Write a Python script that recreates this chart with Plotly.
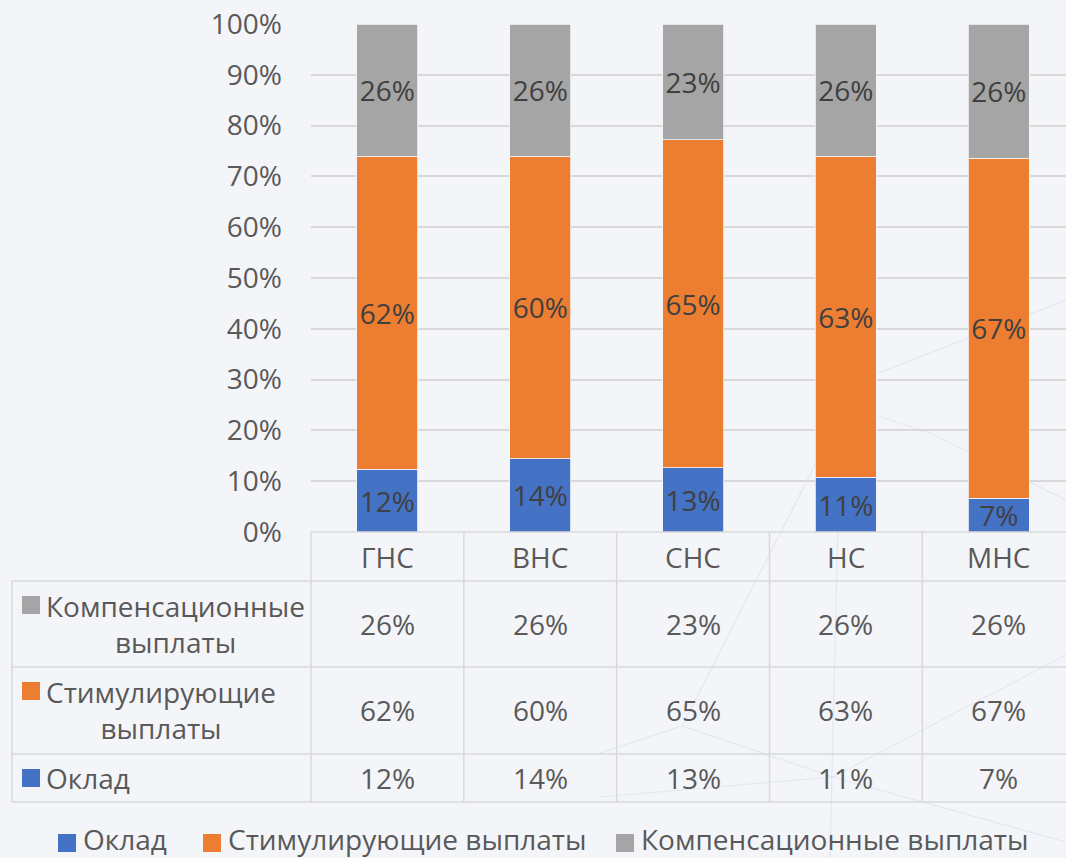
import plotly.graph_objects as go

# data
categories = ['ГНС', 'ВНС', 'СНС', 'НС', 'МНС']
series_names = ['Оклад', 'Стимулирующие выплаты', 'Компенсационные выплаты']
oklad = [12.4, 14.4, 12.6, 10.8, 6.6]
stimul = [61.6, 59.6, 64.6, 63.2, 67.0]
kompens = [26.0, 26.0, 22.8, 26.0, 26.4]
colors = ['#4472C4', '#ED7D31', '#A5A5A5']
y_ticks = [0, 10, 20, 30, 40, 50, 60, 70, 80, 90, 100]

FONT = 'Open Sans'
FS = 28
TXT = '#595959'
LBL = '#404040'
BG = '#F4F5F9'
GRID = '#D9D9D9'

W, H = 1066, 858
L, T, B = 311, 24, 532  # plot area in pixels


def px(p):
    return (p - L) / (W - L)


def py(p):
    return (B - p) / (B - T)


def pct(v):
    return f'{v:.0f}%'


fig = go.Figure()
for name, vals, col in zip(series_names, [oklad, stimul, kompens], colors):
    fig.add_trace(go.Bar(
        x=categories, y=vals, name=name,
        marker=dict(color=col, line=dict(color=BG, width=0.8)),
        text=[pct(v) for v in vals], textposition='inside', textangle=0,
        insidetextanchor='middle', constraintext='none',
        textfont=dict(family=FONT, size=FS, color=LBL),
        width=0.4, hoverinfo='skip',
    ))

shapes = []
annotations = []

# faint background network lines (decoration)
deco = [
    ((600, 753), (682, 726)), ((682, 726), (787, 520)), ((787, 520), (850, 395)),
    ((682, 726), (833, 777)), ((833, 777), (1066, 842)),
    ((600, 797), (833, 777)), ((833, 777), (1066, 655)),
    ((838, 520), (830, 858)), ((930, 353), (1066, 300)), ((930, 433), (1066, 500)),
    ((860, 380), (930, 353)), ((860, 410), (930, 433)),
]
for (x0, y0), (x1, y1) in deco:
    shapes.append(dict(type='line', xref='paper', yref='paper', layer='below',
                       x0=px(x0), y0=py(y0), x1=px(x1), y1=py(y1),
                       line=dict(color='rgba(195,205,228,0.35)', width=1.2)))

# data table grid
line = dict(color=GRID, width=1.5)
rows_y = [581, 667, 754, 802]
shapes.append(dict(type='line', xref='paper', yref='paper', x0=px(L), x1=1.02,
                   y0=py(B), y1=py(B), line=line))
for yy in rows_y:
    shapes.append(dict(type='line', xref='paper', yref='paper', x0=px(12), x1=1.02,
                       y0=py(yy), y1=py(yy), line=line))
shapes.append(dict(type='line', xref='paper', yref='paper', x0=px(12), x1=px(12),
                   y0=py(581), y1=py(802), line=line))
for i in range(len(categories)):
    xx = L + i * (W - L) / 4.94
    shapes.append(dict(type='line', xref='paper', yref='paper', x0=px(xx), x1=px(xx),
                       y0=py(B), y1=py(802), line=line))

# header row
for c in categories:
    annotations.append(dict(x=c, xref='x', y=py(557), yref='paper', text=c,
                            xanchor='center', yanchor='middle', showarrow=False,
                            font=dict(family=FONT, size=FS, color=TXT)))

# table rows (top to bottom: compensation, stimulating, salary)
table_rows = [
    ('Компенсационные<br>выплаты', kompens, colors[2], 624, 605),
    ('Стимулирующие<br>выплаты', stimul, colors[1], 710, 691),
    ('Оклад', oklad, colors[0], 778, 778),
]
for label, vals, col, yc, ysq in table_rows:
    shapes.append(dict(type='rect', xref='paper', yref='paper',
                       x0=px(22), x1=px(40), y0=py(ysq - 9), y1=py(ysq + 9),
                       fillcolor=col, line=dict(width=0)))
    annotations.append(dict(x=px(44), xref='paper', y=py(yc), yref='paper', text=label,
                            xanchor='left', yanchor='middle', align='center',
                            showarrow=False, font=dict(family=FONT, size=FS, color=TXT)))
    for c, v in zip(categories, vals):
        annotations.append(dict(x=c, xref='x', y=py(yc), yref='paper', text=pct(v),
                                xanchor='center', yanchor='middle', showarrow=False,
                                font=dict(family=FONT, size=FS, color=TXT)))

# legend at the bottom
legend_x = [58, 203, 616]
for name, col, lx in zip(series_names, colors, legend_x):
    shapes.append(dict(type='rect', xref='paper', yref='paper',
                       x0=px(lx), x1=px(lx + 18), y0=py(834), y1=py(852),
                       fillcolor=col, line=dict(width=0)))
    annotations.append(dict(x=px(lx + 23), xref='paper', y=py(839), yref='paper', text=name,
                            xanchor='left', yanchor='middle', showarrow=False,
                            font=dict(family=FONT, size=FS, color=TXT)))

fig.update_layout(
    barmode='stack', width=W, height=H,
    margin=dict(l=L, r=0, t=T, b=H - B, pad=0),
    paper_bgcolor=BG, plot_bgcolor=BG,
    showlegend=False, shapes=shapes, annotations=annotations,
    font=dict(family=FONT, size=FS, color=TXT),
    xaxis=dict(range=[-0.5, 4.44], showticklabels=False, showgrid=False,
               zeroline=False, showline=False, fixedrange=True),
    yaxis=dict(range=[0, 100], tickvals=y_ticks, ticktext=[f'{v}%' for v in y_ticks],
               showgrid=True, gridcolor=GRID, gridwidth=1.5, zeroline=False,
               showline=False, ticklabelstandoff=28,
               tickfont=dict(family=FONT, size=FS, color=TXT), fixedrange=True),
)

fig.write_html('out.html', config={'displayModeBar': False},
               post_script="document.body.style.margin='0';document.body.style.overflow='hidden';")
